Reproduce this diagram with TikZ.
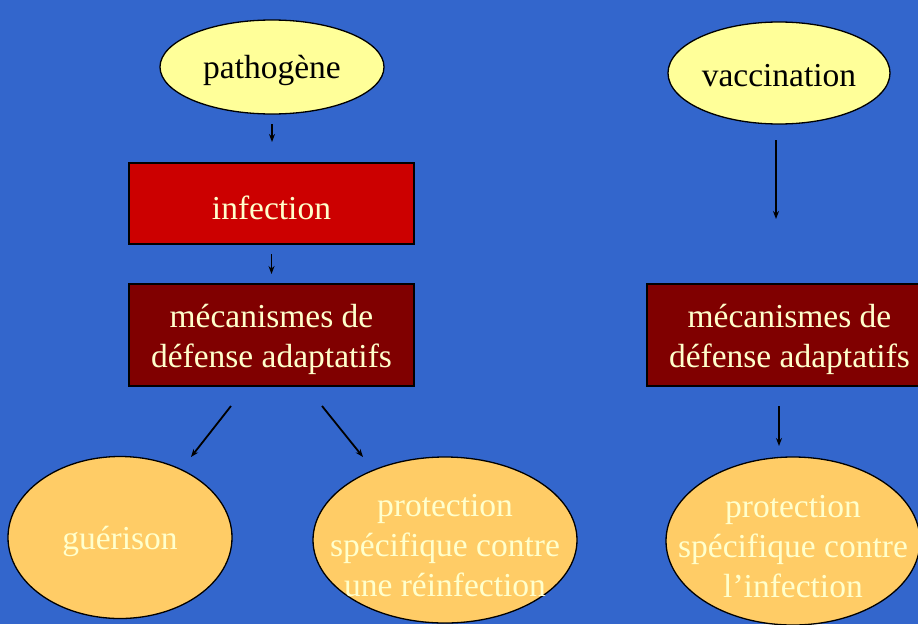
\documentclass[tikz,border=0pt]{standalone}
\usepackage{fontspec}
\setmainfont{Liberation Serif}
\usetikzlibrary{shapes.geometric,arrows.meta}
\definecolor{bgblue}{RGB}{51,102,204}
\definecolor{paleyellow}{RGB}{255,255,153}
\definecolor{cream}{RGB}{255,255,204}
\definecolor{infred}{RGB}{204,0,0}
\definecolor{darkred}{RGB}{128,0,0}
\definecolor{apricot}{RGB}{255,204,102}
\tikzset{
  every node/.style={inner sep=0pt, outer sep=0pt},
  lbl/.style={font=\fontsize{33.5}{40}\selectfont, align=center},
  oval/.style={ellipse, draw=black, line width=1.3pt},
  startoval/.style={oval, fill=paleyellow},
  endoval/.style={oval, fill=apricot},
  redbox/.style={rectangle, draw=black, line width=1.3pt, fill=infred,
    minimum width=285pt, minimum height=81pt},
  mecbox/.style={rectangle, draw=black, line width=1.3pt, fill=darkred,
    minimum width=285pt, minimum height=102pt},
  arr/.style={draw=black, line width=1.8pt, -{Stealth[length=8pt,width=6pt]}}
}
\begin{document}
\begin{tikzpicture}[x=1pt,y=-1pt]
\useasboundingbox (0,0) rectangle (918,624);
\clip (0,0) rectangle (918,624);
\fill[bgblue] (0,0) rectangle (918,624);

% left column: natural infection
\node[startoval, minimum width=224pt, minimum height=94pt] (path) at (272,67) {};
\node[lbl, text=black] (pathT) at (272,70) {pathogène};
\node[redbox] (inf) at (271.5,203.5) {};
\node[lbl, text=cream] (infT) at (271.5,208) {infection};
\node[mecbox] (mecL) at (271.5,335) {};
\node[lbl, text=cream] (mecLT) at (271.5,339) {mécanismes de\\défense adaptatifs};
\node[endoval, minimum width=224pt, minimum height=162pt] (guer) at (120,537.5) {};
\node[lbl, text=cream] (guerT) at (120,541) {guérison};
\node[endoval, minimum width=264pt, minimum height=166pt] (protL) at (445,540) {};
\node[lbl, text=cream] (protLT) at (445,546) {protection\\spécifique contre\\une réinfection};

% right column: vaccination
\node[startoval, minimum width=222pt, minimum height=102pt] (vacc) at (779,73) {};
\node[lbl, text=black] (vaccT) at (779,76) {vaccination};
\node[mecbox] (mecR) at (789.5,335) {};
\node[lbl, text=cream] (mecRT) at (789.5,339) {mécanismes de\\défense adaptatifs};
\node[endoval, minimum width=254pt, minimum height=168pt] (protR) at (793,541) {};
\node[lbl, text=cream] (protRT) at (793,547) {protection\\spécifique contre\\l’infection};

% connectors
\draw[arr, shorten <=10pt, shorten >=21pt] (path.south) -- (path.south |- inf.north);
\draw[arr, shorten <=10pt, shorten >=10pt] (inf.south) -- (inf.south |- mecL.north);
\coordinate (dlA) at ([xshift=-40.5pt, yshift=-20pt]mecL.south);
\coordinate (dlB) at (191,457);
\coordinate (drA) at ([xshift=50.5pt, yshift=-20pt]mecL.south);
\coordinate (drB) at (363,457);
\draw[arr] (dlA) -- (dlB);
\draw[arr] (drA) -- (drB);
\draw[arr, shorten <=16pt, shorten >=65pt] ([xshift=-3pt]vacc.south) -- ([xshift=-3pt]vacc.south |- mecR.north);
\coordinate (vR) at (779,386);
\draw[arr, shorten <=20pt, shorten >=11pt] (vR) -- (vR |- protR.north);
\end{tikzpicture}
\end{document}
